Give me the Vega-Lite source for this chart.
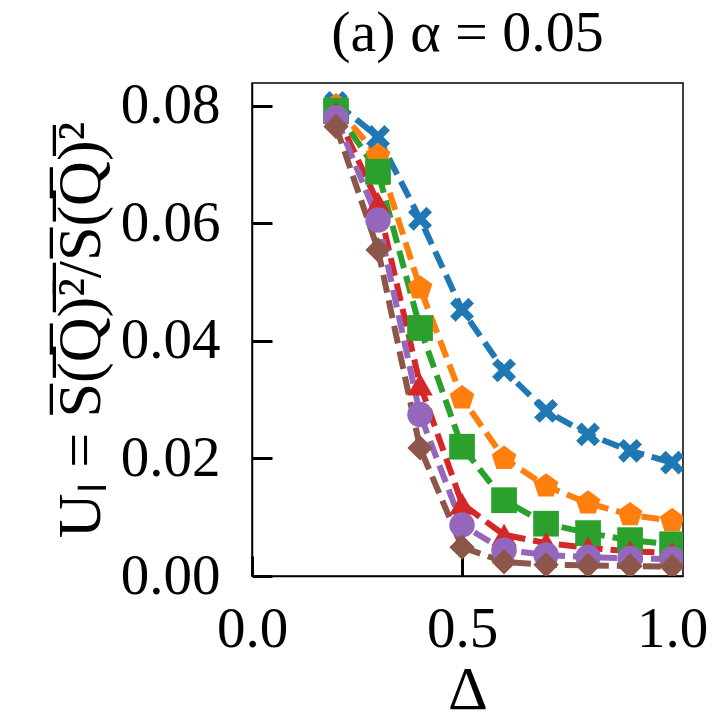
{
  "$schema": "https://vega.github.io/schema/vega-lite/v6.json",
  "autosize": {"type": "none"},
  "padding": {"left": 252, "top": 83, "right": 37, "bottom": 144},
  "width": 431,
  "height": 493,
  "title": {"text": "(a) α = 0.05", "font": "Liberation Serif", "fontSize": 58, "fontWeight": "normal", "color": "black", "offset": 14, "anchor": "middle"},
  "config": {
    "view": {"stroke": "black", "strokeWidth": 1.5},
    "axis": {"labelFont": "Liberation Serif", "titleFont": "Liberation Serif", "labelFontSize": 57, "titleFontSize": 62, "titleFontWeight": "normal", "labelColor": "black", "titleColor": "black", "domainColor": "black", "domainWidth": 1.5, "tickColor": "black", "tickWidth": 3, "tickSize": -20, "grid": false, "labelFlush": false, "labelOverlap": false}
  },
  "data": {"values": [
    {"s": "a", "x": 0.2, "y": 0.0805}, {"s": "a", "x": 0.3, "y": 0.0747}, {"s": "a", "x": 0.4, "y": 0.0608}, {"s": "a", "x": 0.5, "y": 0.0453}, {"s": "a", "x": 0.6, "y": 0.0350}, {"s": "a", "x": 0.7, "y": 0.0281}, {"s": "a", "x": 0.8, "y": 0.0241}, {"s": "a", "x": 0.9, "y": 0.0213}, {"s": "a", "x": 1.0, "y": 0.0193},
    {"s": "b", "x": 0.2, "y": 0.0800}, {"s": "b", "x": 0.3, "y": 0.0715}, {"s": "b", "x": 0.4, "y": 0.0490}, {"s": "b", "x": 0.5, "y": 0.0303}, {"s": "b", "x": 0.6, "y": 0.0200}, {"s": "b", "x": 0.7, "y": 0.0153}, {"s": "b", "x": 0.8, "y": 0.0124}, {"s": "b", "x": 0.9, "y": 0.0104}, {"s": "b", "x": 1.0, "y": 0.0094},
    {"s": "c", "x": 0.2, "y": 0.0792}, {"s": "c", "x": 0.3, "y": 0.0688}, {"s": "c", "x": 0.4, "y": 0.0422}, {"s": "c", "x": 0.5, "y": 0.0220}, {"s": "c", "x": 0.6, "y": 0.0129}, {"s": "c", "x": 0.7, "y": 0.0089}, {"s": "c", "x": 0.8, "y": 0.0073}, {"s": "c", "x": 0.9, "y": 0.0061}, {"s": "c", "x": 1.0, "y": 0.0054},
    {"s": "d", "x": 0.2, "y": 0.0788}, {"s": "d", "x": 0.3, "y": 0.0635}, {"s": "d", "x": 0.4, "y": 0.0326}, {"s": "d", "x": 0.5, "y": 0.0123}, {"s": "d", "x": 0.6, "y": 0.0070}, {"s": "d", "x": 0.7, "y": 0.0056}, {"s": "d", "x": 0.8, "y": 0.0048}, {"s": "d", "x": 0.9, "y": 0.0042}, {"s": "d", "x": 1.0, "y": 0.0039},
    {"s": "e", "x": 0.2, "y": 0.0780}, {"s": "e", "x": 0.3, "y": 0.0606}, {"s": "e", "x": 0.4, "y": 0.0275}, {"s": "e", "x": 0.5, "y": 0.0087}, {"s": "e", "x": 0.6, "y": 0.0044}, {"s": "e", "x": 0.7, "y": 0.0036}, {"s": "e", "x": 0.8, "y": 0.0032}, {"s": "e", "x": 0.9, "y": 0.0030}, {"s": "e", "x": 1.0, "y": 0.0029},
    {"s": "f", "x": 0.2, "y": 0.0765}, {"s": "f", "x": 0.3, "y": 0.0555}, {"s": "f", "x": 0.4, "y": 0.0218}, {"s": "f", "x": 0.5, "y": 0.0049}, {"s": "f", "x": 0.6, "y": 0.0024}, {"s": "f", "x": 0.7, "y": 0.0019}, {"s": "f", "x": 0.8, "y": 0.0018}, {"s": "f", "x": 0.9, "y": 0.0017}, {"s": "f", "x": 1.0, "y": 0.0016}
  ]},
  "encoding": {
    "x": {"field": "x", "type": "quantitative", "scale": {"domain": [0, 1.026], "nice": false, "zero": false}, "axis": {"values": [0, 0.5, 1.0], "format": ".1f", "title": "Δ", "labelPadding": 45, "titlePadding": 2}},
    "y": {"field": "y", "type": "quantitative", "scale": {"domain": [0, 0.0839], "nice": false}, "axis": {"values": [0, 0.02, 0.04, 0.06, 0.08], "format": ".2f", "title": "Uₗ = S̅(̅Q̅)̅²̅/S̅(̅Q̅)̅²", "labelPadding": 52, "titlePadding": 8}},
    "color": {"field": "s", "type": "nominal", "scale": {"domain": ["a", "b", "c", "d", "e", "f"], "range": ["#1f77b4", "#ff7f0e", "#2ca02c", "#d62728", "#9467bd", "#8c564b"]}, "legend": null}
  },
  "layer": [
    {"mark": {"type": "line", "strokeWidth": 6, "strokeDash": [18, 8], "clip": true}, "encoding": {"detail": {"field": "s"}}},
    {"mark": {"type": "point", "filled": true, "opacity": 1, "clip": true},
     "encoding": {
       "shape": {"field": "s", "type": "nominal", "scale": {"domain": ["a", "b", "c", "d", "e", "f"], "range": ["M0.495,-0.919L0.919,-0.495L0.424,0L0.919,0.495L0.495,0.919L0,0.424L-0.495,0.919L-0.919,0.495L-0.424,0L-0.919,-0.495L-0.495,-0.919L0,-0.424Z", "M0,-1L0.951,-0.309L0.588,0.809L-0.588,0.809L-0.951,-0.309Z", "square", "triangle-up", "circle", "M0,-1L1,0L0,1L-1,0Z"]}, "legend": null},
       "size": {"field": "s", "type": "nominal", "scale": {"domain": ["a", "b", "c", "d", "e", "f"], "range": [676, 640, 484, 529, 529, 1000]}, "legend": null}
     }}
  ]
}
